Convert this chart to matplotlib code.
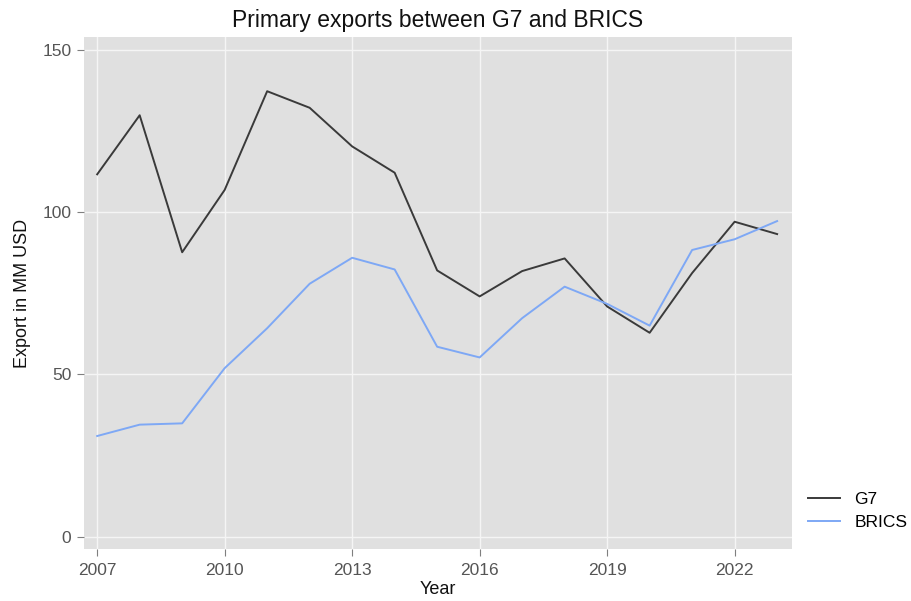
import matplotlib
matplotlib.use("Agg")
import matplotlib.pyplot as plt
from matplotlib.lines import Line2D

years = list(range(2007, 2024))
g7 = [111.6, 129.8, 87.6, 106.8, 137.2, 132.1, 120.2, 112.1, 82.0, 74.0, 81.8, 85.7, 70.9, 62.8, 81.2, 97.0, 93.2]
brics = [31.0, 34.5, 34.9, 51.9, 64.2, 77.9, 85.9, 82.3, 58.5, 55.2, 67.3, 77.0, 71.7, 65.0, 88.3, 91.6, 97.2]
xticks = [2007, 2010, 2013, 2016, 2019, 2022]
yticks = [0, 50, 100, 150]

plt.rcParams['font.family'] = ['Liberation Sans', 'DejaVu Sans']

fig = plt.figure(figsize=(9.12, 6.01), dpi=100)
ax = fig.add_axes([84/912, 52/601, (792-84)/912, (549-37)/601])
ax.set_facecolor('#E0E0E0')
for s in ax.spines.values():
    s.set_visible(False)

ax.set_xticks(xticks)
ax.set_yticks(yticks)
ax.grid(True, color='#F5F5F5', linewidth=1.0)
ax.set_axisbelow(True)
ax.set_xlim(2006.69, 2023.35)
ax.set_ylim(-3.8, 153.9)

ax.plot(years, g7, color='#3A3A3A', linewidth=1.4, label='G7')
ax.plot(years, brics, color='#7EA8F5', linewidth=1.4, label='BRICS')

ax.tick_params(axis='both', colors='#7F7F7F', labelcolor='#555555', labelsize=12.5, length=5, width=0.8, pad=4)
ax.tick_params(axis='x', pad=5)
ax.set_xlabel('Year', fontsize=13, color='#111111', labelpad=2)
ax.set_ylabel('Export in MM USD', fontsize=13, color='#111111', labelpad=8.5)
ax.set_title('Primary exports between G7 and BRICS', fontsize=16.5, color='#111111', pad=7)

leg = fig.legend(handles=[Line2D([], [], color='#3A3A3A', lw=1.4), Line2D([], [], color='#7EA8F5', lw=1.4)],
                 labels=['G7', 'BRICS'], loc='center left', bbox_to_anchor=(803/912, 1 - 511/601),
                 frameon=False, fontsize=12.5, handlelength=1.85, handletextpad=0.8, labelspacing=0.5,
                 borderaxespad=0, borderpad=0.3)

fig.savefig('out.png', dpi=100)
